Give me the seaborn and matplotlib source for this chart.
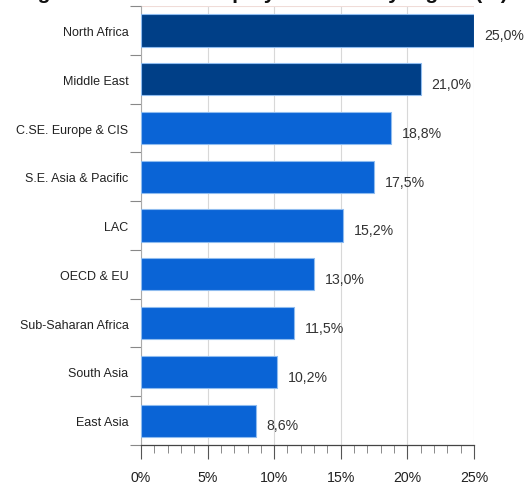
import matplotlib
matplotlib.use("Agg")
import matplotlib.pyplot as plt
from matplotlib.ticker import MultipleLocator, FuncFormatter, FixedLocator
import seaborn as sns
import pandas as pd

regions = ["North Africa", "Middle East", "C.SE. Europe & CIS", "S.E. Asia & Pacific",
           "LAC", "OECD & EU", "Sub-Saharan Africa", "South Asia", "East Asia"]
rates = [25.0, 21.0, 18.8, 17.5, 15.2, 13.0, 11.5, 10.2, 8.6]
groups = ["high", "high", "other", "other", "other", "other", "other", "other", "other"]
x_ticks = [0, 5, 10, 15, 20, 25]

df = pd.DataFrame({"region": regions, "rate": rates, "group": groups})

sns.set_theme(style="white")
plt.rcParams["font.family"] = ["Liberation Sans", "DejaVu Sans"]

fig = plt.figure(figsize=(5.26, 4.85), dpi=100)
ax = fig.add_axes([0.268, 0.0804, 0.633, 0.905])

palette = {"high": "#003f87", "other": "#0a64d6"}
sns.barplot(data=df, x="rate", y="region", hue="group", palette=palette,
            dodge=False, width=0.66, legend=False, ax=ax, saturation=1,
            edgecolor="#8fbcef", linewidth=0.8, zorder=3)

ax.set_xlim(0, 25)
ax.set_ylim(8.5, -0.5)
ax.set_xlabel("")
ax.set_ylabel("")

# percentage labels with decimal comma
for i, v in enumerate(rates):
    ax.text(v + 0.8, i + 0.1, f"{v:.1f}%".replace(".", ","), va="center", ha="left",
            fontsize=10.2, color="#333333", clip_on=False)

ax.xaxis.set_major_locator(FixedLocator(x_ticks))
ax.xaxis.set_minor_locator(MultipleLocator(1))
ax.xaxis.set_major_formatter(FuncFormatter(lambda v, p: f"{int(v)}%"))
ax.tick_params(axis="x", which="major", bottom=True, length=10, width=0.8, color="#555555",
               labelsize=10.2, labelcolor="#222222", pad=8, direction="out")
ax.tick_params(axis="x", which="minor", bottom=True, length=6, width=0.6, color="#777777",
               direction="out")
ax.xaxis.grid(True, which="major", color="#d8d8d8", linewidth=0.8)
ax.set_axisbelow(True)

# y ticks at category boundaries, names at category centres
ax.yaxis.set_major_locator(FixedLocator([i + 0.5 for i in range(-1, 9)]))
ax.yaxis.set_minor_locator(FixedLocator(list(range(9))))
ax.yaxis.set_major_formatter(FuncFormatter(lambda v, p: ""))
ax.yaxis.set_minor_formatter(FuncFormatter(
    lambda v, p: regions[int(round(v))] if 0 <= round(v) < 9 else ""))
ax.tick_params(axis="y", which="major", left=True, length=8, width=0.8, color="#888888",
               direction="out")
ax.tick_params(axis="y", which="minor", left=True, length=0, labelsize=9,
               labelcolor="#222222", pad=9)

for side in ["top", "right"]:
    ax.spines[side].set_visible(False)
ax.spines["left"].set_color("#aaaaaa")
ax.spines["left"].set_linewidth(0.8)
ax.spines["bottom"].set_color("#444444")
ax.spines["bottom"].set_linewidth(0.9)
ax.axhline(-0.5, color="#f0dcd8", linewidth=0.8, zorder=1)

fig.text(0.5, 1.002, "Figure 1: Youth unemployment rate by region (%)", ha="center",
         va="baseline", fontsize=15, fontweight="bold", color="#111111")

fig.savefig("out.png", dpi=100, facecolor="white")
